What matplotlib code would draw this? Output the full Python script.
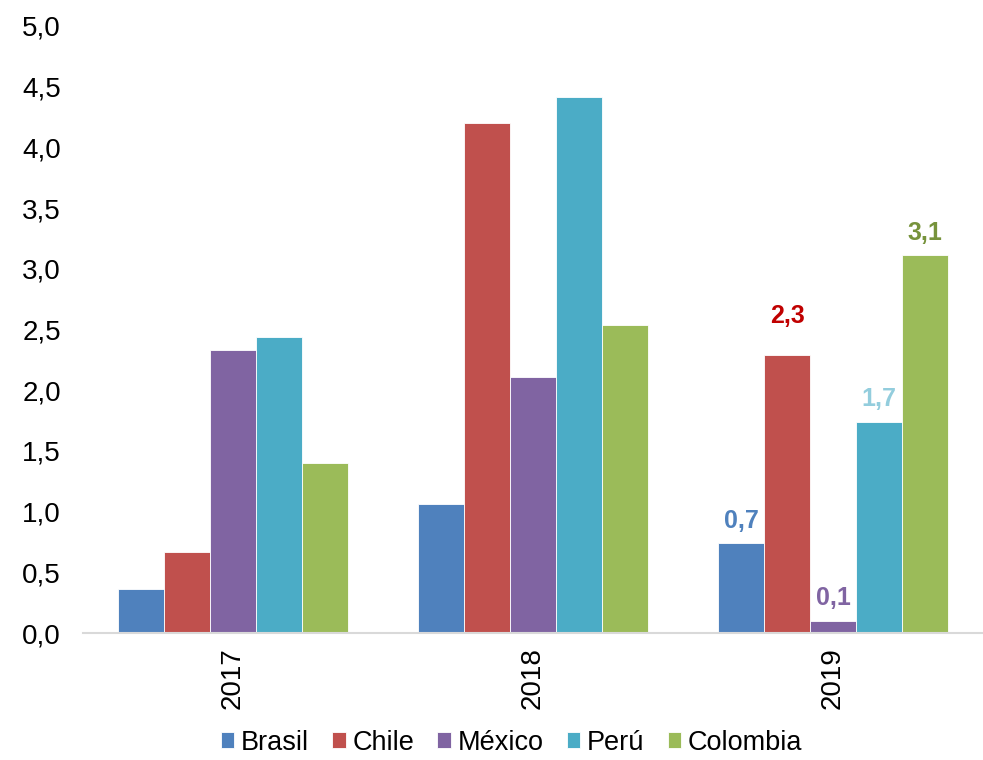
import numpy as np
import matplotlib
matplotlib.use("Agg")
import matplotlib.pyplot as plt

plt.rcParams["font.family"] = ["Liberation Sans", "DejaVu Sans"]

# ---------------------------------------------------------------------------
# Data
# ---------------------------------------------------------------------------
years = ["2017", "2018", "2019"]
countries = ["Brasil", "Chile", "México", "Perú", "Colombia"]
brasil = [0.36, 1.06, 0.74]
chile = [0.67, 4.20, 2.29]
mexico = [2.33, 2.11, 0.10]
peru = [2.44, 4.41, 1.74]
colombia = [1.40, 2.54, 3.11]
series = [brasil, chile, mexico, peru, colombia]

# labels shown above the 2019 bars
labels_2019 = ["0,7", "2,3", "0,1", "1,7", "3,1"]

colors = ["#4F81BD", "#C0504D", "#8064A2", "#4BACC6", "#9BBB59"]
label_colors = ["#4F81BD", "#C00000", "#8064A2", "#93CDDD", "#77933C"]
label_offsets = [11, 23, 11.5, 11, 11]  # points from bar top to text baseline

# ---------------------------------------------------------------------------
# Plot
# ---------------------------------------------------------------------------
fig = plt.figure(figsize=(9.83, 7.6), dpi=100)
ax = fig.add_axes([0.0845, 0.167, 0.9155, 0.799])

x = np.arange(len(years))
width = 0.153
for i, (name, vals) in enumerate(zip(countries, series)):
    pos = x + (i - 2) * width
    ax.bar(pos, vals, width, color=colors[i], label=name,
           edgecolor="white", linewidth=0.6, zorder=2)
    ax.annotate(labels_2019[i], (pos[2], vals[2]),
                xytext=(0, label_offsets[i]), textcoords="offset points",
                ha="center", va="baseline", fontsize=18, fontweight="bold",
                color=label_colors[i])

ax.set_xlim(-0.5, 2.5)
ax.set_ylim(0, 5)
ticks = np.arange(0, 5.01, 0.5)
ax.set_yticks(ticks)
ax.set_yticklabels([f"{v:.1f}".replace(".", ",") for v in ticks])
ax.set_xticks(x)
ax.set_xticklabels(years, rotation=90)
ax.tick_params(axis="both", length=0, labelsize=20)
ax.tick_params(axis="y", pad=16)
ax.tick_params(axis="x", pad=10)

for side in ["top", "right", "left"]:
    ax.spines[side].set_visible(False)
ax.spines["bottom"].set_color("#D9D9D9")
ax.spines["bottom"].set_linewidth(1.5)

ax.legend(loc="center", bbox_to_anchor=(0.5204, 0.023), bbox_transform=fig.transFigure,
          ncol=5, frameon=False, fontsize=19.5, handlelength=0.5, handleheight=0.5,
          handletextpad=0.25, columnspacing=0.85)

fig.savefig("out.png", dpi=100)
